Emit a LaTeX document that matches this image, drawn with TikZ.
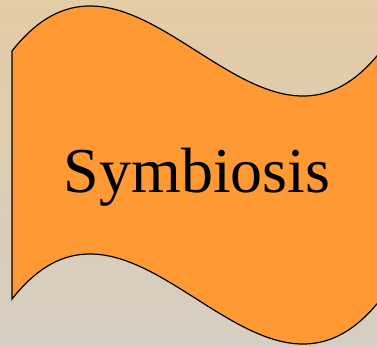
\documentclass[tikz,border=0pt]{standalone}
\usepackage{fontspec}
\setmainfont{Liberation Serif}
\definecolor{bgtop}{RGB}{228,204,164}
\definecolor{bgbottom}{RGB}{213,206,194}
\definecolor{banner}{RGB}{255,153,51}
\begin{document}
\begin{tikzpicture}[x=1pt,y=1pt]
  % page and background
  \useasboundingbox (0,0) rectangle (377,346);
  \clip (0,0) rectangle (377,346);
  \shade[top color=bgtop,bottom color=bgbottom] (0,0) rectangle (377,346);
  % wave banner
  \draw[fill=banner,line width=1.2pt,line join=miter]
    (12,295) .. controls (135,451) and (258,139) .. (381,295)
    -- (381,47) .. controls (258,-109) and (135,203) .. (12,47) -- cycle;
  \node[anchor=base,inner sep=0pt,font=\fontsize{64}{64}\selectfont] (title) at (197,154) {Symbiosis};
\end{tikzpicture}
\end{document}
